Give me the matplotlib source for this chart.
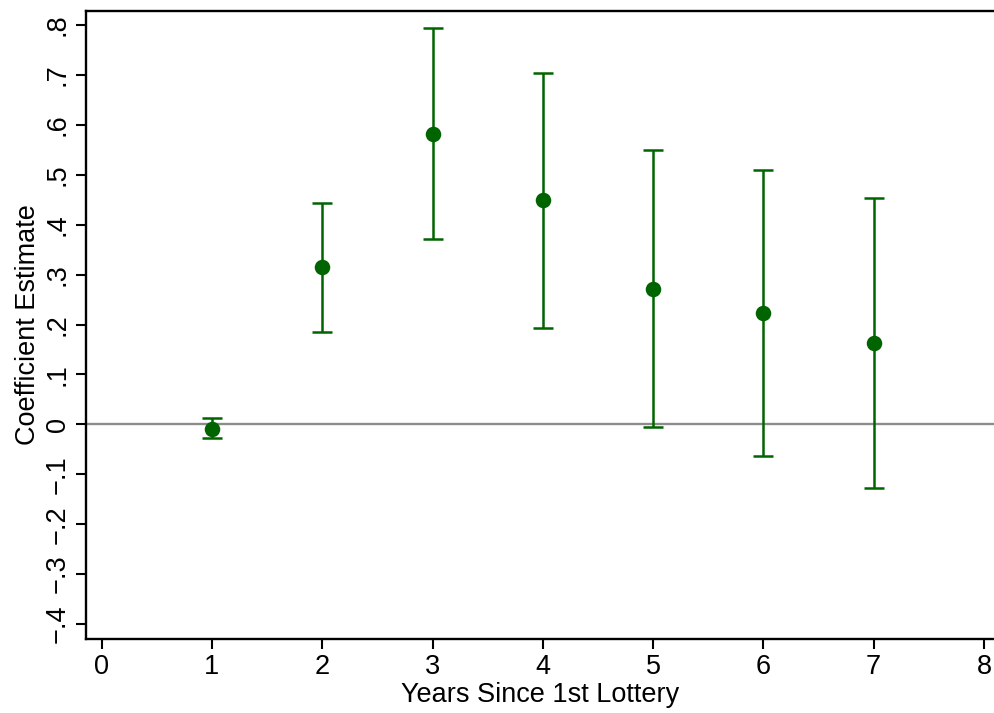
import matplotlib.pyplot as plt

plt.rcParams['font.family'] = ['Liberation Sans', 'DejaVu Sans']

years = [1, 2, 3, 4, 5, 6, 7]
coef = [-0.010, 0.315, 0.582, 0.450, 0.271, 0.223, 0.163]
ci_low = [-0.028, 0.185, 0.372, 0.194, -0.006, -0.063, -0.128]
ci_high = [0.012, 0.444, 0.794, 0.705, 0.549, 0.510, 0.453]

yticks = [-0.4, -0.3, -0.2, -0.1, 0, 0.1, 0.2, 0.3, 0.4, 0.5, 0.6, 0.7, 0.8]
ytick_labels = ['\u2212.4', '\u2212.3', '\u2212.2', '\u2212.1', '0',
                '.1', '.2', '.3', '.4', '.5', '.6', '.7', '.8']
xticks = [0, 1, 2, 3, 4, 5, 6, 7, 8]

green = '#006400'

fig = plt.figure(figsize=(9.95, 7.13), dpi=100)
ax = fig.add_axes([0.0864, 0.1038, 0.9136, 0.8812])

ax.axhline(0, color='#8c8c8c', lw=1.7, zorder=1)

err_lo = [c - l for c, l in zip(coef, ci_low)]
err_hi = [h - c for c, h in zip(coef, ci_high)]
ax.errorbar(years, coef, yerr=[err_lo, err_hi], fmt='none', ecolor=green,
            elinewidth=1.8, capsize=7, capthick=1.8, zorder=2)
ax.scatter(years, coef, s=125, color=green, zorder=3, linewidths=0)

ax.set_xlim(-0.142, 8.1)
ax.set_ylim(-0.43, 0.829)

ax.set_xticks(xticks)
ax.set_yticks(yticks)
ax.set_yticklabels(ytick_labels, rotation=90, va='center')
ax.tick_params(axis='both', labelsize=19.5, width=1.5, length=7, color='black')
ax.tick_params(axis='y', pad=4)
ax.tick_params(axis='x', pad=4)

for side in ['left', 'bottom', 'top']:
    ax.spines[side].set_linewidth(1.7)
ax.spines['right'].set_visible(False)

ax.set_xlabel('Years Since 1st Lottery', fontsize=19.5, labelpad=1)
ax.set_ylabel('Coefficient Estimate', fontsize=19.5, labelpad=3)

fig.savefig('out.png', dpi=100)
